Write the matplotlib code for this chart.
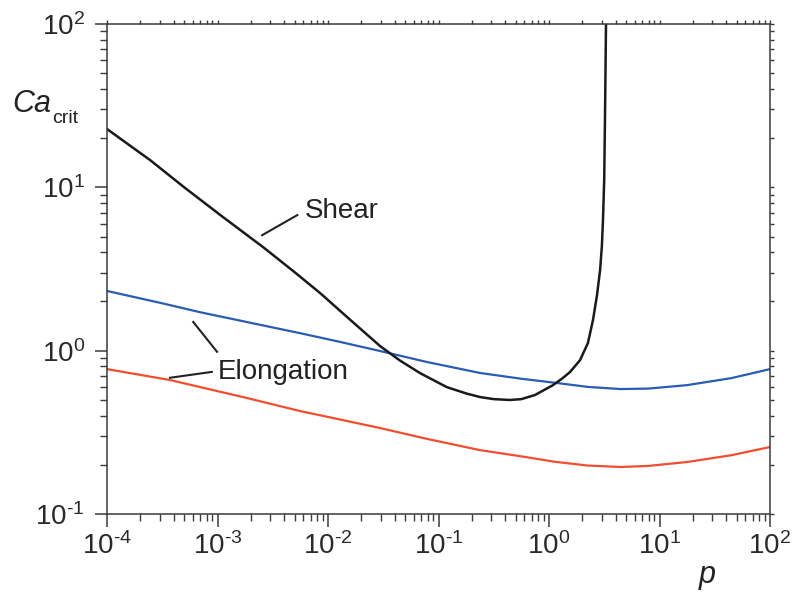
import matplotlib
matplotlib.use('Agg')
import matplotlib.pyplot as plt
from matplotlib.ticker import LogLocator, NullFormatter

plt.rcParams['font.family'] = ['Liberation Sans', 'DejaVu Sans']
plt.rcParams['mathtext.fontset'] = 'custom'
plt.rcParams['mathtext.rm'] = 'Liberation Sans'
plt.rcParams['mathtext.it'] = 'Liberation Sans:italic'
plt.rcParams['axes.unicode_minus'] = False

# shear curve (black)
p_shear = [1.0e-4, 1.58e-4, 2.45e-4, 5.0e-4, 1.12e-3, 2.58e-3, 5.0e-3, 8.5e-3,
           0.0158, 0.0296, 0.0447, 0.068, 0.119, 0.178, 0.238, 0.316, 0.444,
           0.562, 0.746, 1.086, 1.318, 1.55, 1.91, 2.25, 2.50, 2.72, 2.90,
           3.01, 3.08, 3.16, 3.21, 3.28, 3.30]
ca_shear = [22.75, 18.2, 14.7, 10.0, 6.58, 4.31, 3.02, 2.25,
            1.55, 1.067, 0.871, 0.729, 0.598, 0.547, 0.520, 0.505, 0.499,
            0.505, 0.535, 0.615, 0.676, 0.740, 0.875, 1.114, 1.538, 2.19, 3.12,
            4.37, 6.31, 11.2, 25.8, 100, 130]

# elongation curves (blue and red)
p_blue = [1e-4, 3.16e-4, 6.95e-4, 2.0e-3, 5.58e-3, 0.0126, 0.0296, 0.0794,
          0.238, 0.562, 1.18, 2.24, 4.47, 7.94, 17.7, 44.7, 100]
ca_blue = [2.32, 1.95, 1.72, 1.48, 1.28, 1.135, 0.995, 0.851,
           0.730, 0.673, 0.634, 0.600, 0.582, 0.586, 0.615, 0.679, 0.771]

p_red = [1e-4, 3.72e-4, 1.85e-3, 5.58e-3, 0.0126, 0.0296, 0.0794, 0.238,
         0.547, 1.12, 2.24, 4.47, 7.94, 17.7, 44.7, 100]
ca_red = [0.771, 0.661, 0.513, 0.427, 0.380, 0.336, 0.288, 0.246,
          0.226, 0.209, 0.198, 0.194, 0.197, 0.208, 0.229, 0.257]

x_ticks = [1e-4, 1e-3, 1e-2, 1e-1, 1e0, 1e1, 1e2]
x_labels = [r'$10^{\text{-}4}$', r'$10^{\text{-}3}$', r'$10^{\text{-}2}$',
            r'$10^{\text{-}1}$', r'$10^{0}$', r'$10^{1}$', r'$10^{2}$']
y_ticks = [1e-1, 1e0, 1e1, 1e2]
y_labels = [r'$10^{\text{-}1}$', r'$10^{0}$', r'$10^{1}$', r'$10^{2}$']

W, H = 793, 593
fig = plt.figure(figsize=(W / 100, H / 100), dpi=100)
pos = [107 / W, 1 - 514 / H, 663 / W, 490 / H]
ax = fig.add_axes(pos)

ax.plot(p_blue, ca_blue, color='#2a5bb5', lw=1.6)
ax.plot(p_red, ca_red, color='#f04e2e', lw=1.6)
ax.plot(p_shear, ca_shear, color='#1a1a1a', lw=1.8)

ax.set_xscale('log')
ax.set_yscale('log')
ax.set_xlim(1e-4, 1e2)
ax.set_ylim(1e-1, 1e2)

ax.set_xticks(x_ticks)
ax.set_xticklabels(x_labels)
ax.set_yticks(y_ticks)
ax.set_yticklabels(y_labels)
ax.xaxis.set_minor_locator(LogLocator(base=10, subs=range(2, 10), numticks=20))
ax.yaxis.set_minor_locator(LogLocator(base=10, subs=range(2, 10), numticks=20))
ax.xaxis.set_minor_formatter(NullFormatter())
ax.yaxis.set_minor_formatter(NullFormatter())

spine_col = '#3a3a3a'
for s in ax.spines.values():
    s.set_color(spine_col)
    s.set_linewidth(1.1)
ax.tick_params(which='major', direction='out', length=9, width=1.1,
               color=spine_col, labelsize=20, labelcolor='#2a2a2a')
ax.tick_params(which='minor', direction='out', length=5, width=1.0,
               color=spine_col)
ax.tick_params(axis='x', which='major', pad=4)
ax.tick_params(axis='y', which='major', pad=7)

# small ticks on top and right
ax2 = fig.add_axes(pos, facecolor='none')
ax2.set_xscale('log')
ax2.set_yscale('log')
ax2.set_xlim(1e-4, 1e2)
ax2.set_ylim(1e-1, 1e2)
ax2.xaxis.set_minor_locator(LogLocator(base=10, subs=range(2, 10), numticks=20))
ax2.yaxis.set_minor_locator(LogLocator(base=10, subs=range(2, 10), numticks=20))
ax2.tick_params(which='both', direction='out', length=3, width=1.0,
                color=spine_col, bottom=False, left=False, top=True, right=True,
                labelbottom=False, labelleft=False)
for s in ax2.spines.values():
    s.set_visible(False)

# leader lines and labels
lead = dict(color='#222222', lw=1.5, transform=ax.transAxes, clip_on=False)
ax.plot([0.234, 0.287], [0.569, 0.610], **lead)
ax.plot([0.130, 0.166], [0.392, 0.331], **lead)
ax.plot([0.095, 0.158], [0.278, 0.290], **lead)
ax.text(0.299, 0.604, 'Shear', transform=ax.transAxes, fontsize=20,
        va='baseline', ha='left', color='#222222')
ax.text(0.167, 0.2755, 'Elongation', transform=ax.transAxes, fontsize=20,
        va='baseline', ha='left', color='#222222')

# axis labels
fig.text(12 / W, 1 - 112 / H, 'Ca', fontsize=22, style='italic',
         va='baseline', ha='left', color='#222222')
fig.text(52 / W, 1 - 123 / H, 'crit', fontsize=14,
         va='baseline', ha='left', color='#222222')
fig.text(699 / W, 1 - 583 / H, 'p', fontsize=22, style='italic',
         va='baseline', ha='left', color='#222222')

fig.savefig('out.png', dpi=100)
